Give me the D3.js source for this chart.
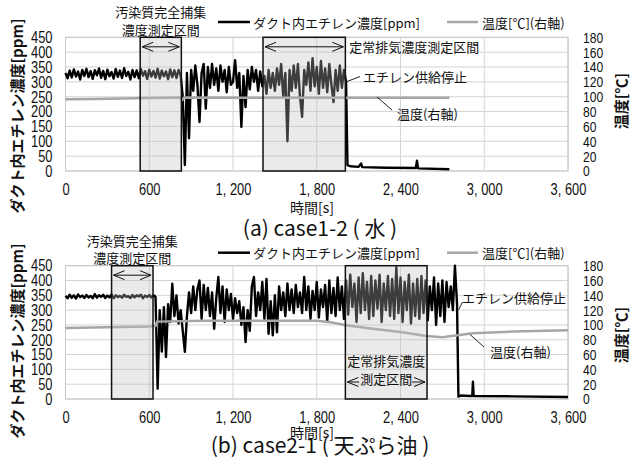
<!DOCTYPE html>
<html>
<head>
<meta charset="utf-8">
<script src="https://cdn.jsdelivr.net/npm/d3@7"></script>
<style>
  body { margin: 0; background: #fff; }
  svg  { display: block; }
  .num { font-family: "Liberation Sans", Arial, sans-serif; }
  .jp  { font-family: "Noto Sans CJK JP", sans-serif; }
</style>
</head>
<body>
<div id="chart"></div>
<script>
/* ───────────────────────────────────────────── */
/* 1. Data                 */
/* ───────────────────────────────────────────── */
const STEP = 15;   // s between ethylene samples below

// (a) case1-2 — ethylene [ppm], one value every 15 s from 0 s (rows of 150 s)
const ethyleneA = [
  330,312,338,315,342,318,335,308,340,320,
  344,316,336,310,339,322,345,314,337,309,
  341,319,333,311,343,317,338,313,346,320,
  334,308,340,316,339,312,343,321,336,310,
  341,318,337,314,344,311,338,319,335,309,
  342,316,339,313,340,322,250,20,330,110,
  340,270,355,290,165,330,360,210,350,280,
  360,290,345,270,355,300,340,265,350,290,
  300,373,280,330,148,320,215,340,275,350,
  300,340,270,335,285,320,260,340,280,330,
  270,345,290,360,250,330,100,340,270,355,
  280,360,250,182,340,290,365,270,380,285,
  350,260,370,280,345,265,360,290,232,340,
  270,355,280,340,300
];
// after the ethylene supply stop: [s, ppm]
const ethyleneTailA = [[2020,20],[2040,16],[2100,14],[2118,25],[2126,13],[2300,11],
  [2510,10],[2518,35],[2526,9],[2750,6]];
// temperature [s, °C]
const temperatureA = [[0,96.5],[200,97],[500,98],[820,98.8],[835,95.5],[850,98.8],
  [1400,98.5],[2000,98.5],[2200,98.5],[2750,98.5]];
const captureA = [535, 830];
const steadyA  = [1415, 2005];

// (b) case2-1 — ethylene [ppm], one value every 15 s from 0 s
const ethyleneB = [
  348,340,352,342,350,339,353,344,349,341,
  351,343,348,340,354,342,350,345,352,341,
  349,343,353,340,350,344,348,342,352,345,
  347,341,351,343,350,346,352,340,349,344,
  351,343,350,345,35,300,160,310,142,320,
  260,389,280,350,255,300,230,159,280,360,
  290,380,300,370,400,270,385,300,375,280,
  360,237,340,412,290,380,260,370,300,355,
  270,340,290,330,250,310,192,300,230,380,
  412,280,360,300,395,270,405,220,330,215,
  350,225,380,300,360,280,390,300,370,290,
  385,310,360,290,412,300,380,270,365,300,
  395,275,370,310,385,260,400,290,375,280,
  410,300,380,270,400,285,420,310,390,260,
  410,290,425,300,395,270,415,280,400,305,
  420,260,390,300,415,280,405,270,445,290,
  410,260,395,300,420,255,390,280,405,270,
  415,290,400,265,380,300,410,250,390,280,
  400,260,395,310,380,300,450,320
];
const ethyleneTailB = [[2815,8],[2830,12],[2900,10],[2914,10],[2919,58],[2924,10],
  [3200,9],[3600,7]];
const temperatureB = [[0,95.9],[300,96.8],[600,98],[645,98.5],[655,104.5],[1000,105.5],
  [1800,105.5],[1900,103.5],[2010,99.5],[2200,95],[2400,90.5],[2585,85],[2700,83.3],
  [2823,86.4],[2917,88.7],[3200,91],[3600,92.7]];
const captureB = [330, 627];
const steadyB  = [2005, 2590];

// axes
const ppmTicks   = [0, 50, 100, 150, 200, 250, 300, 350, 400, 450];
const tempTicks  = [0, 20, 40, 60, 80, 100, 120, 140, 160, 180];
const timeTicks  = [0, 600, 1200, 1800, 2400, 3000, 3600];
const timeLabels = ['0', '600', '1, 200', '1, 800', '2, 400', '3, 000', '3, 600'];

/* ───────────────────────────────────────────── */
/* 2. Helpers                                    */
/* ───────────────────────────────────────────── */
const W = 630, H = 462;
const NARROW = 0.78;   // horizontal squeeze for the tall, narrow figure digits
const svg = d3.select('#chart').append('svg').attr('width', W).attr('height', H);

function jpText(g, x, y, str, size, anchor = 'start', weight = 'normal') {
  return g.append('text').attr('class', 'jp')
    .attr('x', x).attr('y', y)
    .attr('font-size', size).attr('font-weight', weight)
    .attr('text-anchor', anchor).attr('dominant-baseline', 'central')
    .attr('fill', '#111').text(str);
}

function doubleArrow(g, x1, x2, y, heads = [true, true]) {
  const a = g.append('g').attr('stroke', '#111').attr('stroke-width', 1).attr('fill', 'none');
  a.append('line').attr('x1', x1).attr('x2', x2).attr('y1', y).attr('y2', y);
  if (heads[0]) a.append('polyline').attr('points', `${x1 + 11},${y - 4.5} ${x1},${y} ${x1 + 11},${y + 4.5}`);
  if (heads[1]) a.append('polyline').attr('points', `${x2 - 11},${y - 4.5} ${x2},${y} ${x2 - 11},${y + 4.5}`);
  return a;
}

/* ───────────────────────────────────────────── */
/* 3. One panel                                  */
/* ───────────────────────────────────────────── */
function drawPanel(p) {
  const x  = d3.scaleLinear().domain([0, 3600]).range([65.5, 568]);
  const y  = d3.scaleLinear().domain([0, 450]).range([p.bottom, p.top]);
  const yT = d3.scaleLinear().domain([0, 180]).range([p.bottom, p.top]);
  const g = svg.append('g');

  /* gridlines */
  g.append('g').selectAll('line').data(ppmTicks).join('line')
    .attr('x1', x(0)).attr('x2', x(3600))
    .attr('y1', d => y(d)).attr('y2', d => y(d))
    .attr('stroke', '#d4d4d4').attr('stroke-width', 1);
  g.append('g').selectAll('line').data(timeTicks).join('line')
    .attr('x1', d => x(d)).attr('x2', d => x(d))
    .attr('y1', y(0)).attr('y2', y(450))
    .attr('stroke', '#d4d4d4').attr('stroke-width', 1);
  g.append('rect').attr('x', x(0)).attr('y', y(450))
    .attr('width', x(3600) - x(0)).attr('height', y(0) - y(450))
    .attr('fill', 'none').attr('stroke', '#c8c8c8');

  /* series */
  const eth = p.ethylene.map((v, i) => [i * STEP, v]).concat(p.tail);
  g.append('path').datum(eth)
    .attr('fill', 'none').attr('stroke', '#000').attr('stroke-width', 2.4)
    .attr('stroke-linejoin', 'round')
    .attr('d', d3.line().x(d => x(d[0])).y(d => y(d[1])));

  g.append('path').datum(p.temperature)
    .attr('fill', 'none').attr('stroke', '#a6a6a6').attr('stroke-width', 2.5)
    .attr('d', d3.line().x(d => x(d[0])).y(d => yT(d[1])));

  /* measurement intervals */
  g.append('g').selectAll('rect').data([p.capture, p.steady]).join('rect')
    .attr('x', d => x(d[0])).attr('width', d => x(d[1]) - x(d[0]))
    .attr('y', y(450)).attr('height', y(0) - y(450))
    .attr('fill', 'rgba(190,190,190,0.32)')
    .attr('stroke', '#111').attr('stroke-width', 1.5);

  /* axes */
  const left = g.append('g').attr('transform', `translate(${x(0)},0)`)
    .call(d3.axisLeft(y).tickValues(ppmTicks).tickSize(0).tickPadding(13));
  const right = g.append('g').attr('transform', `translate(${x(3600)},0)`)
    .call(d3.axisRight(yT).tickValues(tempTicks).tickSize(0).tickPadding(15));
  const bottom = g.append('g').attr('transform', `translate(0,${y(0)})`)
    .call(d3.axisBottom(x).tickValues(timeTicks).tickSize(0).tickPadding(12)
      .tickFormat((d, i) => timeLabels[i]));
  [left, right, bottom].forEach(a => {
    a.select('.domain').remove();
    a.attr('font-family', null).attr('font-size', null);
    a.selectAll('text').attr('class', 'num').attr('fill', '#111')
      .attr('font-size', a === right ? 15.5 : 16.5)
      .each(function () {
        const w = this.getComputedTextLength();
        d3.select(this).attr('textLength', w * NARROW).attr('lengthAdjust', 'spacingAndGlyphs');
      });
  });

  /* axis titles */
  jpText(g, 0, 0, 'ダクト内エチレン濃度[ppm]', 15, 'middle', 'bold')
    .attr('transform', `translate(16,${p.leftTitleY}) rotate(-90)`);
  jpText(g, 0, 0, '温度[℃]', 15, 'middle', 'bold')
    .attr('transform', `translate(620,${p.rightTitleY}) rotate(-90)`);
  jpText(g, 312, p.xTitleY, '時間[s]', 14, 'middle');
  jpText(g, 320, p.captionY, p.caption, 21, 'middle');

  /* legend */
  g.append('line').attr('x1', 218).attr('x2', 250).attr('y1', p.legendY).attr('y2', p.legendY)
    .attr('stroke', '#000').attr('stroke-width', 2.5);
  jpText(g, 253, p.legendY, 'ダクト内エチレン濃度[ppm]', 13);
  g.append('line').attr('x1', 447).attr('x2', 478).attr('y1', p.legendY).attr('y2', p.legendY)
    .attr('stroke', '#a6a6a6').attr('stroke-width', 2.5);
  jpText(g, 482, p.legendY, '温度[℃](右軸)', 13);

  /* capture interval note */
  const cx = x((p.capture[0] + p.capture[1]) / 2);
  jpText(g, cx, p.top - 25.5, '汚染質完全捕集', 13, 'middle');
  jpText(g, cx, p.top - 8, '濃度測定区間', 13, 'middle');
  doubleArrow(g, x(p.capture[0]) + 2, x(p.capture[1]) - 2, p.top + 9.5);

  /* steady interval note */
  if (p.steadyInside) {
    const sx = x((p.steady[0] + p.steady[1]) / 2);
    jpText(g, sx, p.bottom - 39, '定常排気濃度', 13, 'middle');
    jpText(g, sx, p.bottom - 20.5, '測定区間', 13, 'middle');
    const ay = p.bottom - 17;
    doubleArrow(g, x(p.steady[0]) + 2, sx - 27, ay, [true, false]);
    doubleArrow(g, sx + 26, x(p.steady[1]) - 2, ay, [false, true]);
  } else {
    doubleArrow(g, x(p.steady[0]) + 2, x(p.steady[1]) - 2, p.top + 9.5);
    jpText(g, x(p.steady[1]) + 4, p.top + 9.5, '定常排気濃度測定区間', 13);
  }

  /* callouts */
  jpText(g, p.stopLabel[0], p.stopLabel[1], 'エチレン供給停止', 13);
  g.append('line').attr('x1', p.stopLead[0][0]).attr('y1', p.stopLead[0][1])
    .attr('x2', p.stopLead[1][0]).attr('y2', p.stopLead[1][1])
    .attr('stroke', '#222').attr('stroke-width', 1);
  jpText(g, p.tempLabel[0], p.tempLabel[1], '温度(右軸)', 13);
  g.append('line').attr('x1', p.tempLead[0][0]).attr('y1', p.tempLead[0][1])
    .attr('x2', p.tempLead[1][0]).attr('y2', p.tempLead[1][1])
    .attr('stroke', '#222').attr('stroke-width', 1);
}

/* ───────────────────────────────────────────── */
/* 4. Both panels                                */
/* ───────────────────────────────────────────── */
drawPanel({
  top: 37.3, bottom: 171,
  ethylene: ethyleneA, tail: ethyleneTailA, temperature: temperatureA,
  capture: captureA, steady: steadyA, steadyInside: false,
  legendY: 22, xTitleY: 207, captionY: 226.5, caption: '(a) case1-2 ( 水 )',
  leftTitleY: 116, rightTitleY: 101,
  stopLabel: [363, 76], stopLead: [[347, 81.5], [360, 76.5]],
  tempLabel: [397, 113], tempLead: [[377, 97], [392, 110]]
});

drawPanel({
  top: 265.7, bottom: 399,
  ethylene: ethyleneB, tail: ethyleneTailB, temperature: temperatureB,
  capture: captureB, steady: steadyB, steadyInside: true,
  legendY: 252.7, xTitleY: 431.5, captionY: 443.5, caption: '(b) case2-1 ( 天ぷら油 )',
  leftTitleY: 341, rightTitleY: 335,
  stopLabel: [462, 297], stopLead: [[462.5, 302], [458.5, 310]],
  tempLabel: [490, 351], tempLead: [[470, 334.5], [484, 347]]
});
</script>
</body>
</html>
